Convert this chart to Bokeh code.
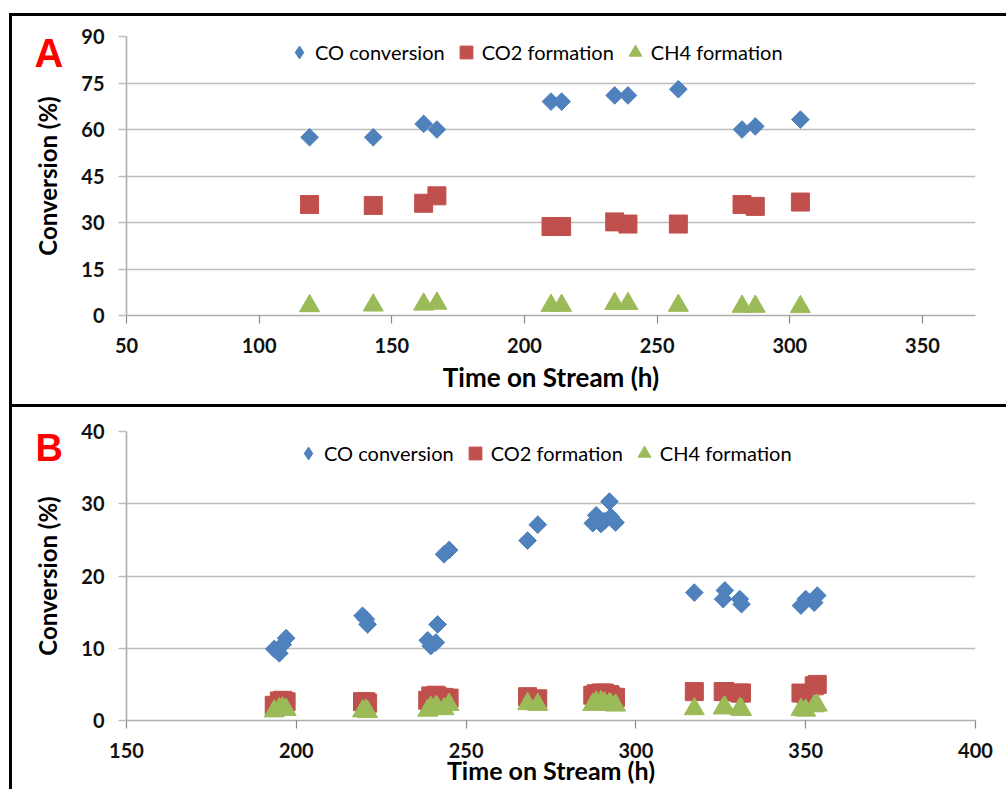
import numpy as np
from bokeh.plotting import figure
from bokeh.models import Range1d, Legend, LegendItem, Title, FixedTicker
from bokeh.layouts import column
from bokeh.embed import file_html
from bokeh.resources import INLINE

# ---------------- data ----------------
series_names = ["CO conversion", "CO2 formation", "CH4 formation"]

# Panel A
a_time = [119, 143, 162, 167, 210, 214, 234, 239, 258, 282, 287, 304]
a_co   = [57.5, 57.5, 61.8, 60.0, 69.0, 69.0, 71.0, 71.0, 73.0, 60.0, 61.0, 63.2]
a_co2  = [35.8, 35.5, 36.2, 38.6, 28.7, 28.7, 30.2, 29.5, 29.5, 35.8, 35.2, 36.6]
a_ch4  = [3.1, 3.3, 3.6, 3.9, 3.2, 3.2, 3.8, 3.8, 3.2, 2.9, 2.9, 2.8]
a_xticks = [50, 100, 150, 200, 250, 300, 350]
a_yticks = [0, 15, 30, 45, 60, 75, 90]

# Panel B
b_time = [193.5, 195, 196, 197, 219.5, 220.5, 221, 238.7, 239.6, 241.1, 241.6, 243.5, 245,
          268.1, 271.1, 287.3, 288.3, 289.7, 290.7, 292.2, 292.6, 294, 317.2, 325.7, 326.2,
          330.6, 331.1, 348.6, 350, 352.5, 353.4]
b_co   = [9.9, 9.3, 10.5, 11.4, 14.5, 14.0, 13.3, 11.1, 10.3, 10.8, 13.3, 23.0, 23.6,
          24.9, 27.1, 27.3, 28.4, 27.2, 27.6, 30.3, 28.2, 27.4, 17.7, 16.8, 18.0,
          16.8, 16.1, 15.9, 16.8, 16.3, 17.3]
b_co2  = [2.1, 2.7, 2.8, 2.6, 2.6, 2.6, 2.4, 2.8, 3.4, 3.5, 3.3, 3.2, 3.1,
          3.3, 3.0, 3.5, 3.7, 3.8, 3.8, 3.6, 3.4, 3.2, 4.0, 4.0, 4.0,
          3.8, 3.8, 3.8, 3.7, 4.8, 5.0]
b_ch4  = [1.3, 1.6, 1.7, 1.5, 1.3, 1.4, 1.2, 1.4, 1.8, 1.9, 1.7, 1.6, 2.2,
          2.3, 2.2, 2.2, 2.5, 2.6, 2.4, 2.3, 2.2, 2.1, 1.6, 1.7, 1.8,
          1.6, 1.5, 1.5, 1.4, 2.0, 2.1]
b_xticks = [150, 200, 250, 300, 350, 400]
b_yticks = [0, 10, 20, 30, 40]

# ---------------- style ----------------
BLUE, RED, GREEN = "#4F81BD", "#C0504D", "#9BBB59"
FONT = "Lato"
AXIS_GREY = "#AEAEAE"
TICK_GREY = "#8A8A8A"
GRID_GREY = "#BDBDBD"


def build(time, co, co2, ch4, xr, yr, xticks, yticks, W, H, ml, mr, mt, mb,
          leg_loc, letter, letter_size, letter_offset, letter_standoff,
          xlabel_standoff, xlabel_size):
    p = figure(width=W, height=H, x_range=Range1d(*xr), y_range=Range1d(*yr),
               output_backend="svg", toolbar_location=None,
               min_border_left=ml, min_border_right=mr,
               min_border_top=mt, min_border_bottom=mb)
    p.outline_line_color = None
    p.xgrid.grid_line_color = None
    p.ygrid.grid_line_color = GRID_GREY
    p.ygrid.grid_line_width = 1.6
    p.xaxis.ticker = FixedTicker(ticks=xticks)
    p.yaxis.ticker = FixedTicker(ticks=yticks)
    for ax in (p.xaxis[0], p.yaxis[0]):
        ax.axis_line_color = AXIS_GREY
        ax.axis_line_width = 1.6
        ax.major_tick_line_color = TICK_GREY
        ax.major_tick_line_width = 1.2
        ax.major_tick_out = 8
        ax.major_tick_in = 0
        ax.minor_tick_out = 0
        ax.minor_tick_in = 0
        ax.major_label_text_font = FONT
        ax.major_label_text_font_style = "bold"
        ax.major_label_text_font_size = "20px"
        ax.major_label_text_color = "#111111"
        ax.major_label_standoff = 14
        ax.axis_label_text_font = FONT
        ax.axis_label_text_font_style = "bold"
        ax.axis_label_text_color = "#000000"
    p.yaxis.major_tick_line_color = GRID_GREY
    p.yaxis.major_tick_line_width = 1.6
    p.xaxis.axis_label_text_font_size = xlabel_size
    p.yaxis.axis_label_text_font_size = "24px"
    p.xaxis.axis_label = "Time on Stream (h)"
    p.yaxis.axis_label = "Conversion (%)"
    p.yaxis.axis_label_standoff = 16
    p.xaxis.axis_label_standoff = xlabel_standoff

    # legend swatch for the diamond series (legend glyphs ignore rotation);
    # drawn small, underneath the rotated squares of the same data
    r1_key = p.scatter(time, co, marker="diamond", size=9,
                       fill_color=BLUE, line_color=BLUE)
    r1 = p.scatter(time, co, marker="square", angle=np.pi / 4, size=12.5,
                   fill_color=BLUE, line_color=BLUE)
    r2 = p.scatter(time, co2, marker="square", size=18,
                   fill_color=RED, line_color=RED)
    r3 = p.scatter(time, ch4, marker="triangle", size=20,
                   fill_color=GREEN, line_color=GREEN)

    legend = Legend(items=[LegendItem(label=series_names[0], renderers=[r1_key]),
                           LegendItem(label=series_names[1], renderers=[r2]),
                           LegendItem(label=series_names[2], renderers=[r3])],
                    orientation="horizontal", location=leg_loc,
                    border_line_color=None, background_fill_alpha=0,
                    label_text_font=FONT, label_text_font_size="20px",
                    label_text_color="#000000",
                    glyph_width=32, glyph_height=32, label_standoff=-4,
                    spacing=5, padding=0, margin=0)
    p.add_layout(legend)

    p.add_layout(Title(text=letter, align="left", offset=letter_offset,
                       standoff=letter_standoff, vertical_align="bottom",
                       text_font="Liberation Sans", text_font_style="bold",
                       text_font_size=letter_size, text_color="#FF0000"), "above")
    return p


pA = build(a_time, a_co, a_co2, a_ch4, (50, 370), (0, 90), a_xticks, a_yticks,
           994, 388, 113, 34, 20, 95, (157, 247), "A", "40px", -92, -77, 5, "26px")
pB = build(b_time, b_co, b_co2, b_ch4, (150, 400), (0, 40), b_xticks, b_yticks,
           994, 395, 114, 26, 24, 82, (166, 251), "B", "38px", -91, -74, -6, "25px")

pA.styles = {"box-sizing": "content-box", "border-top": "3px solid black",
             "border-left": "3px solid black", "border-bottom": "3px solid black"}
pB.styles = {"box-sizing": "content-box", "border-left": "3px solid black"}

layout = column(pA, pB, spacing=0)
layout.margin = (13, 0, 0, 9)
layout.styles = {"max-height": "776px", "overflow": "hidden"}

open("out.html", "w").write(file_html(layout, INLINE))
